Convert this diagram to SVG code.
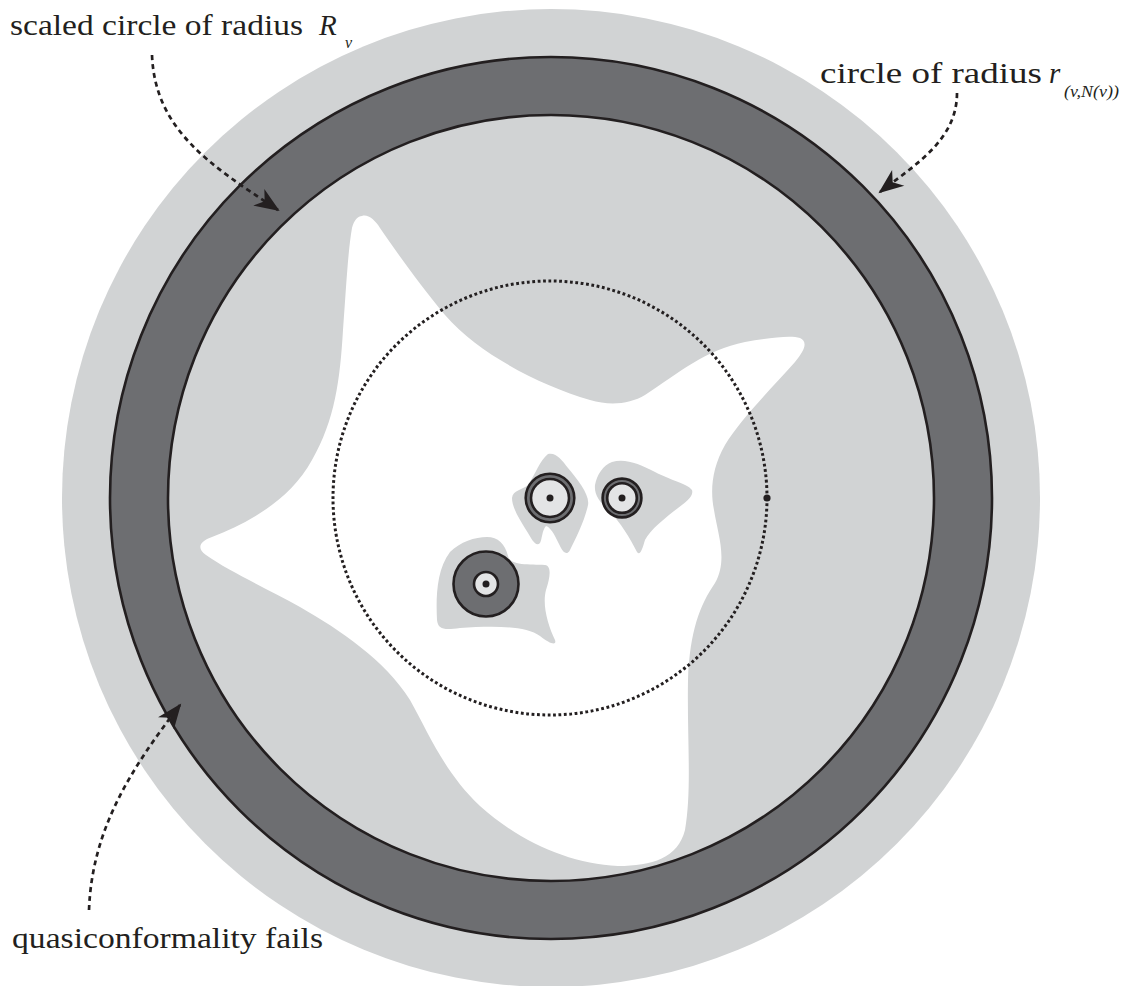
<svg xmlns="http://www.w3.org/2000/svg" width="1126" height="986" viewBox="0 0 1126 986">
<style>
.lg{fill:#d1d3d4}
.ring{stroke:#231f20;stroke-width:2.6}
.dot{fill:#231f20}
.lbl{font-family:"Liberation Serif","Times New Roman",serif;font-size:29px;fill:#231f20}
.it{font-style:italic}
.sub{font-family:"Liberation Serif","Times New Roman",serif;font-size:16px;font-style:italic;fill:#231f20}
.dash{fill:none;stroke:#231f20;stroke-width:2.7;stroke-dasharray:5 4}
</style>
<defs>
<marker id="stealth" markerUnits="userSpaceOnUse" markerWidth="30" markerHeight="30" viewBox="-26 -13 30 26" refX="0" refY="0" orient="auto">
<path d="M2,0 L-23,-10 L-16,0 L-23,10 Z" fill="#231f20"/>
</marker>
</defs>
<rect width="1126" height="986" fill="#ffffff"/>
<g id="outer-disk"><circle cx="551" cy="498" r="489" class="lg"/></g>
<g id="ring">
<circle cx="551" cy="498" r="441" fill="#6d6e71" class="ring"/>
<circle cx="551" cy="498" r="383" class="lg ring"/>
</g>
<g id="white-region">
<path fill="#ffffff" d="M362,216 C368,214 375,220 380,228 C395,250 420,285 445,315 C480,355 540,385 590,400 C610,406 630,404 645,395 C680,372 705,350 745,342 C770,338 790,335 800,338 C808,342 805,350 795,362 C770,390 740,420 725,445 C712,468 710,490 714,510 C718,535 728,560 715,583 C700,605 690,630 688,680 C687,740 692,790 685,830 C678,858 652,866 618,866 C570,864 520,842 480,806 C445,773 430,736 410,700 C385,660 340,630 300,607 C270,590 230,572 206,555 C196,548 200,541 212,537 C250,522 290,500 312,460 C335,420 340,380 343,330 C346,290 348,250 352,228 C354,220 358,216 362,216 Z"/>
</g>
<g id="blobs">
<path class="lg" d="M548,454 C556,452 562,460 568,468 C578,480 590,495 588,505 C585,520 575,540 570,550 C567,556 563,552 561,548 C556,538 552,528 546,526 C542,530 542,540 540,543 C536,547 532,540 528,533 C520,520 512,508 512,498 C513,490 522,490 528,485 C535,475 540,460 548,454 Z"/>
<path class="lg" d="M612,462 C625,458 640,464 655,472 C670,480 688,484 692,490 C694,496 686,502 678,508 C665,518 650,530 645,540 C642,550 640,556 637,552 C630,538 620,522 610,512 C600,502 594,495 595,485 C597,475 603,465 612,462 Z"/>
<path class="lg" d="M487,537 C498,537 505,544 508,556 C510,566 530,564 545,565 C552,566 550,578 546,590 C542,605 548,625 555,640 C557,646 550,644 540,636 C525,625 490,626 460,628 C445,630 438,630 437,620 C436,600 436,570 450,552 C460,542 475,537 487,537 Z"/>
</g>
<g id="dotted-circle">
<circle cx="550" cy="498" r="217" fill="none" stroke="#231f20" stroke-width="3" stroke-dasharray="2.8 2.6"/>
<circle cx="767" cy="498" r="3.6" class="dot"/>
</g>
<g id="node-a">
<circle cx="550" cy="498" r="24.3" fill="#6d6e71" class="ring" stroke-width="2.8"/>
<circle cx="550" cy="498" r="19" fill="#e3e4e5" class="ring" stroke-width="2.8"/>
<circle cx="550" cy="498" r="3.5" class="dot"/>
</g>
<g id="node-b">
<circle cx="622" cy="498" r="19.4" fill="#6d6e71" class="ring" stroke-width="2.6"/>
<circle cx="622" cy="498" r="14.8" fill="#e3e4e5" class="ring" stroke-width="2.6"/>
<circle cx="622" cy="498" r="3.5" class="dot"/>
</g>
<g id="node-c">
<circle cx="486" cy="584" r="32.5" fill="#6d6e71" class="ring" stroke-width="2.8"/>
<circle cx="486" cy="584" r="12" fill="#e3e4e5" class="ring" stroke-width="2.8"/>
<circle cx="486" cy="584" r="3.5" class="dot"/>
</g>
<g id="connectors">
<path class="dash" d="M152,55 C155,130 210,165 278,210" marker-end="url(#stealth)"/>
<path class="dash" d="M957,93 C957,140 915,165 880,192" marker-end="url(#stealth)"/>
<path class="dash" d="M89,910 C92,830 130,770 180,705" marker-end="url(#stealth)"/>
</g>
<g id="label-scaled">
<text class="lbl" x="10" y="35" textLength="293" lengthAdjust="spacingAndGlyphs">scaled circle of radius</text>
<text class="lbl it" x="319" y="35">R</text>
<text class="sub" x="345" y="48">v</text>
</g>
<g id="label-circle">
<text class="lbl" x="820" y="83" textLength="222" lengthAdjust="spacingAndGlyphs">circle of radius</text>
<text class="lbl it" x="1049" y="83">r</text>
<text class="sub" x="1064" y="97" textLength="55" lengthAdjust="spacingAndGlyphs">(v,N(v))</text>
</g>
<g id="label-quasi">
<text class="lbl" x="12" y="948" textLength="311" lengthAdjust="spacingAndGlyphs">quasiconformality fails</text>
</g>
</svg>
